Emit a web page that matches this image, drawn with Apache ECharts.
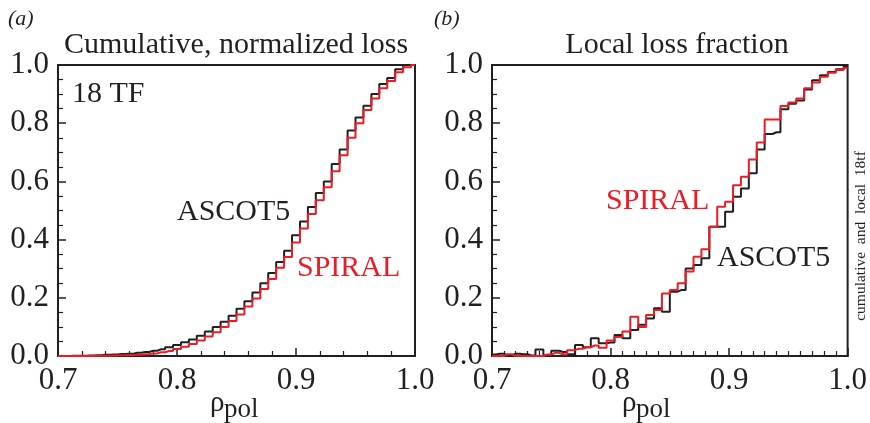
<!DOCTYPE html>
<html>
<head>
<meta charset="utf-8">
<script src="https://cdn.jsdelivr.net/npm/echarts@6/dist/echarts.min.js"></script>
<style>html,body{margin:0;padding:0;background:#fff}#c{width:870px;height:423px}</style>
</head>
<body>
<div id="c"></div>
<script>
// bin centres (rho_pol)
var rho = [0.700,0.7067,0.7133,0.720,0.7267,0.7333,0.740,0.7467,0.7533,0.760,
           0.7667,0.7733,0.780,0.7867,0.7933,0.800,0.8067,0.8133,0.820,0.8267,
           0.8333,0.840,0.8467,0.8533,0.860,0.8667,0.8733,0.880,0.8867,0.8933,
           0.900,0.9067,0.9133,0.920,0.9267,0.9333,0.940,0.9467,0.9533,0.960,
           0.9667,0.9733,0.980,0.9867,0.9933,1.000];
// (a) cumulative, normalized loss
var cumAscot = [0,0,0.001,0.001,0.002,0.003,0.004,0.005,0.007,0.008,
                0.011,0.014,0.018,0.023,0.030,0.038,0.047,0.057,0.070,0.084,
                0.100,0.118,0.138,0.162,0.188,0.218,0.250,0.285,0.323,0.362,
                0.415,0.462,0.512,0.560,0.600,0.660,0.710,0.775,0.820,0.860,
                0.900,0.935,0.955,0.985,1.0,1.0];
var cumSpiral = [0,0,0,0,0,0.001,0.001,0.002,0.003,0.003,
                 0.004,0.006,0.009,0.013,0.017,0.024,0.032,0.041,0.053,0.067,
                 0.082,0.100,0.120,0.143,0.170,0.198,0.230,0.265,0.303,0.340,
                 0.390,0.438,0.488,0.535,0.580,0.635,0.690,0.750,0.800,0.845,
                 0.885,0.920,0.945,0.975,0.992,1.0];
// (b) local loss fraction
var locAscot = [0.005,0.008,0.003,0.008,0.006,0.002,0.022,0.003,0.018,0.014,
                0.006,0.038,0.030,0.061,0.044,0.046,0.072,0.061,0.089,0.107,
                0.129,0.164,0.152,0.221,0.227,0.301,0.313,0.336,0.444,0.444,
                0.496,0.547,0.576,0.628,0.710,0.763,0.769,0.848,0.867,0.878,
                0.916,0.948,0.965,0.976,0.985,0.995];
var locSpiral = [0,0,0.006,0,0,0,0,0.005,0.011,0.005,
                 0.020,0.025,0.030,0.036,0.028,0.053,0.065,0.084,0.135,0.100,
                 0.141,0.158,0.215,0.227,0.250,0.290,0.341,0.367,0.444,0.513,
                 0.530,0.587,0.616,0.675,0.734,0.813,0.813,0.859,0.871,0.885,
                 0.920,0.940,0.960,0.973,0.983,0.990];
var xTicks = [0.7,0.8,0.9,1.0];
var yTicks = [0.0,0.2,0.4,0.6,0.8,1.0];

function pairs(xs, ys){ return xs.map(function(x,i){ return [x, ys[i]]; }); }

var FONT = '"Liberation Serif", "DejaVu Serif", serif';
var INK = '#231f20', RED = '#ed1c24';

function xAxis(gi, minorSplit){
  return {
    gridIndex: gi, type: 'value', min: 0.7, max: 1.0, interval: 0.1,
    axisLine: {show: true, lineStyle: {color: INK, width: 2}},
    axisTick: {show: true, inside: true, length: 8, lineStyle: {color: INK, width: 1.5}},
    minorTick: {show: true, splitNumber: minorSplit, length: 5, lineStyle: {color: INK, width: 1.2}},
    splitLine: {show: false},
    axisLabel: {color: INK, fontFamily: FONT, fontSize: 31, margin: 9,
                formatter: function(v){ return v.toFixed(1); }}
  };
}
function yAxis(gi){
  return {
    gridIndex: gi, type: 'value', min: 0, max: 1.0, interval: 0.2,
    axisLine: {show: true, lineStyle: {color: INK, width: 2}},
    axisTick: {show: true, inside: true, length: 8, lineStyle: {color: INK, width: 1.5}},
    minorTick: {show: true, splitNumber: 4, length: 5, lineStyle: {color: INK, width: 1.2}},
    splitLine: {show: false},
    axisLabel: {color: INK, fontFamily: FONT, fontSize: 31, margin: 9,
                formatter: function(v){ return v.toFixed(1); }}
  };
}
function series(xi, data, color, z){
  return {type: 'line', xAxisIndex: xi, yAxisIndex: xi, data: data, step: 'middle',
          showSymbol: false, symbol: 'none', z: z, animation: false,
          lineStyle: {color: color, width: 2}};
}
function txt(x, y, s, size, color, extra){
  var st = {text: s, x: 0, y: 0, fill: color || INK, font: (extra && extra.italic ? 'italic ' : '') + size + 'px ' + FONT,
            textAlign: (extra && extra.align) || 'left', textVerticalAlign: 'middle'};
  return {type: 'text', x: x, y: y, rotation: (extra && extra.rot) || 0, style: st, z: 100};
}

var chart = echarts.init(document.getElementById('c'), null, {renderer: 'canvas'});
chart.setOption({
  animation: false,
  backgroundColor: '#fff',
  grid: [
    {left: 58, top: 65, width: 357, height: 291, show: true, borderColor: INK, borderWidth: 2, backgroundColor: 'transparent'},
    {left: 492, top: 65, width: 357, height: 291, show: true, borderColor: INK, borderWidth: 2, backgroundColor: 'transparent'}
  ],
  xAxis: [xAxis(0, 5), xAxis(1, 10)],
  yAxis: [yAxis(0), yAxis(1)],
  series: [
    series(0, pairs(rho, cumAscot), INK, 2),
    series(0, pairs(rho, cumSpiral), RED, 3),
    series(1, pairs(rho, locAscot), INK, 2),
    series(1, pairs(rho, locSpiral), RED, 3)
  ],
  graphic: [
    txt(8, 19, '(a)', 22, INK, {italic: true}),
    txt(434, 19, '(b)', 22, INK, {italic: true}),
    txt(236, 45, 'Cumulative, normalized loss', 30, INK, {align: 'center'}),
    txt(677, 45, 'Local loss fraction', 30, INK, {align: 'center'}),
    txt(72, 94, '18 TF', 30, INK),
    txt(177, 212, 'ASCOT5', 30, INK),
    txt(297, 268, 'SPIRAL', 30, RED),
    txt(606, 201, 'SPIRAL', 30, RED),
    txt(717, 258, 'ASCOT5', 30, INK),
    txt(210, 403, 'ρ', 29, INK),
    txt(224, 410, 'pol', 27, INK),
    txt(622, 403, 'ρ', 29, INK),
    txt(636, 410, 'pol', 27, INK),
    txt(861, 236, 'cumulative  and  local  18tf', 15.5, INK, {align: 'center', rot: Math.PI / 2})
  ]
});
</script>
</body>
</html>
